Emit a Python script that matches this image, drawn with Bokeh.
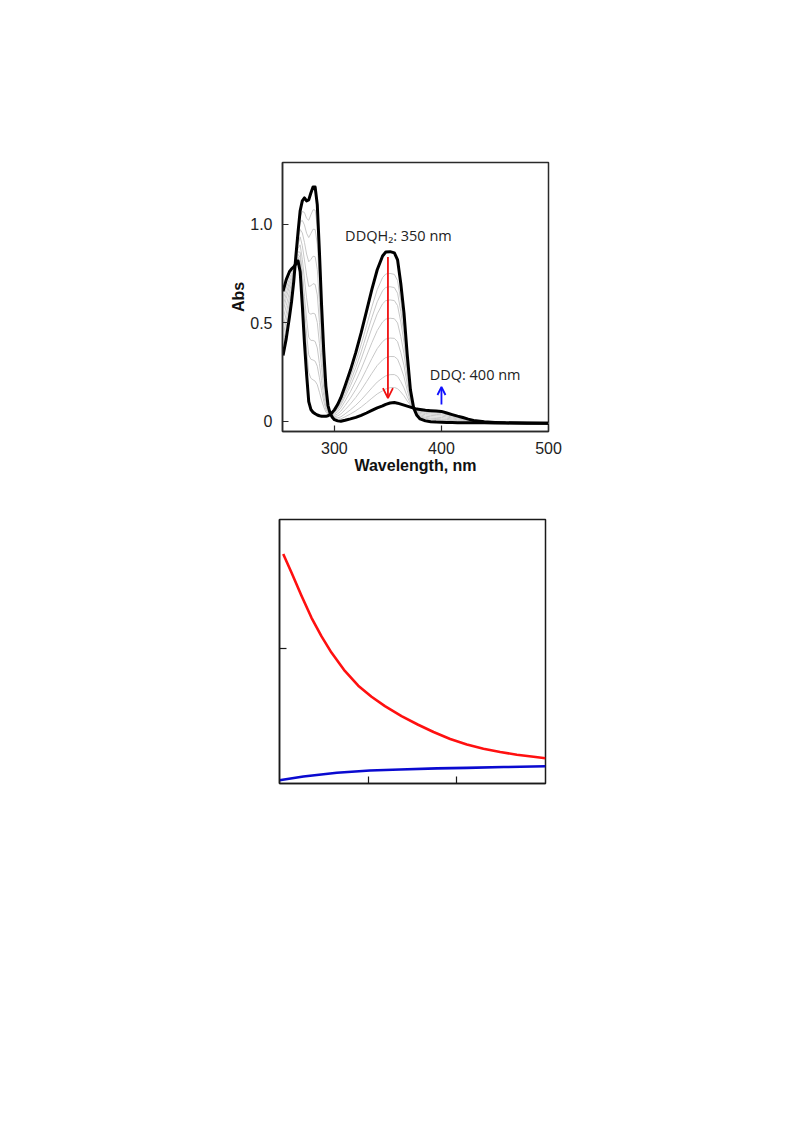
from bokeh.plotting import figure
from bokeh.layouts import column, row
from bokeh.models import FixedTicker, Arrow, OpenHead, ColumnDataSource
from bokeh.core.properties import value
from bokeh.embed import file_html
from bokeh.resources import INLINE

# ---------------- data: UV-vis spectra ----------------
wavelength = [252, 255, 258, 260, 262, 264, 266, 268, 270, 272, 274, 276, 278, 280,
              282, 284, 286, 288, 290, 292, 294, 296, 298, 300, 303, 306, 310, 315,
              320, 325, 330, 335, 340, 345, 348, 352, 356, 359, 362, 365, 368, 371,
              374, 377, 380, 385, 390, 395, 400, 405, 410, 415, 420, 425, 430, 440,
              450, 460, 480, 500]

abs_initial = [0.66, 0.72, 0.76, 0.775, 0.785, 0.80, 0.815, 0.76, 0.59, 0.40, 0.24, 0.10,
               0.06, 0.046, 0.038, 0.032, 0.028, 0.026, 0.025, 0.025, 0.028, 0.034,
               0.045, 0.058, 0.085, 0.12, 0.18, 0.26, 0.35, 0.45, 0.56, 0.67, 0.77,
               0.84, 0.86, 0.862, 0.856, 0.82, 0.70, 0.55, 0.34, 0.16, 0.068, 0.03,
               0.012, 0.002, -0.002, -0.004, -0.005, -0.006, -0.006, -0.007, -0.007,
               -0.007, -0.008, -0.008, -0.009, -0.009, -0.01, -0.01]

abs_final = [0.334, 0.42, 0.53, 0.61, 0.71, 0.84, 0.96, 1.07, 1.12, 1.135, 1.12, 1.125,
             1.16, 1.19, 1.19, 1.10, 0.86, 0.59, 0.36, 0.18, 0.08, 0.04, 0.02, 0.008,
             0.002, 0.0, 0.005, 0.012, 0.02, 0.03, 0.042, 0.055, 0.068, 0.078, 0.086,
             0.093, 0.095, 0.092, 0.087, 0.082, 0.077, 0.072, 0.067, 0.062, 0.06,
             0.056, 0.054, 0.052, 0.05, 0.042, 0.034, 0.026, 0.019, 0.011, 0.004,
             -0.003, -0.006, -0.008, -0.009, -0.01]

# reaction progress of the intermediate (grey) spectra, read from the 350 nm heights
progress = [0.144, 0.232, 0.319, 0.44, 0.571, 0.693, 0.813, 0.899]

# annotations
arrow_x = [350, 400]
arrow_start = [0.835, 0.085]
arrow_end = [0.118, 0.174]
label_x = [310, 389]
label_y = [0.944, 0.237]
label_text = ["DDQH\u2082: 350 nm", "DDQ: 400 nm"]

x_ticks = [300, 400, 500]
y_ticks = [0, 0.5, 1.0]
y_tick_labels = ["0", "0.5", "1.0"]

# ---------------- data: kinetics traces ----------------
t_red = [0.042, 0.135, 0.248, 0.361, 0.474, 0.586, 0.737, 0.888, 1.038, 1.189, 1.376,
         1.564, 1.737, 1.925, 2.113, 2.30, 2.489, 2.677, 2.865, 3.0]
y_red = [0.852, 0.783, 0.697, 0.615, 0.546, 0.486, 0.418, 0.363, 0.322, 0.287, 0.250,
         0.218, 0.191, 0.165, 0.145, 0.129, 0.117, 0.107, 0.099, 0.094]
t_blue = [0.0, 0.27, 0.647, 1.02, 1.361, 1.776, 2.113, 2.53, 3.0]
y_blue = [0.012, 0.026, 0.040, 0.048, 0.052, 0.056, 0.058, 0.061, 0.064]
t_ticks = [1, 2]
level_ticks = [0.5]

FRAME = "#2a2a2a"
TICKFONT = "Liberation Sans"

# ---------------- top figure ----------------
p1 = figure(frame_width=266, frame_height=269, x_range=(251.5, 500), y_range=(-0.052, 1.315),
            output_backend="svg", toolbar_location=None,
            min_border_left=282, min_border_right=42, min_border_top=162, min_border_bottom=59)
p1.grid.visible = False
p1.outline_line_color = FRAME
p1.outline_line_width = 1.5

for f in progress:
    mix = [a + f * (b - a) for a, b in zip(abs_initial, abs_final)]
    p1.line(wavelength, mix, line_color="#c8c8c8", line_width=1)
p1.line(wavelength, abs_initial, line_color="black", line_width=3, line_join="round")
p1.line(wavelength, abs_final, line_color="black", line_width=3, line_join="round")

arrow_colors = ["#f01010", "#1010ff"]
head_sizes = [10, 8]
for xx, y0, y1, c, hs in zip(arrow_x, arrow_start, arrow_end, arrow_colors, head_sizes):
    p1.add_layout(Arrow(end=OpenHead(line_color=c, line_width=1.8, size=hs),
                        x_start=xx, y_start=y0, x_end=xx, y_end=y1,
                        line_color=c, line_width=1.8))

src = ColumnDataSource(dict(x=label_x, y=label_y, t=label_text))
p1.text(x="x", y="y", text="t", source=src, text_font=value("Open Sans"),
        text_font_size="14.5px", text_color="#222222", text_baseline="middle",
        text_align="left")

for ax in (p1.xaxis[0], p1.yaxis[0]):
    ax.axis_line_color = FRAME
    ax.axis_line_width = 1.5
    ax.major_tick_line_color = FRAME
    ax.major_tick_line_width = 1.2
    ax.major_tick_in = 6
    ax.major_tick_out = 0
    ax.minor_tick_line_color = None
    ax.major_label_text_font = TICKFONT
    ax.major_label_text_font_size = "16px"
    ax.major_label_text_color = "#222222"
    ax.axis_label_text_font = TICKFONT
    ax.axis_label_text_font_size = "16px"
    ax.axis_label_text_font_style = "bold"
    ax.axis_label_text_color = "#111111"

p1.xaxis.ticker = FixedTicker(ticks=x_ticks)
p1.yaxis.ticker = FixedTicker(ticks=y_ticks)
p1.yaxis.major_label_overrides = {t: s for t, s in zip(y_ticks, y_tick_labels)}
p1.xaxis.axis_label = "Wavelength, nm"
p1.yaxis.axis_label = "Abs"
p1.xaxis.major_label_standoff = 10
p1.yaxis.major_label_standoff = 10
p1.xaxis.axis_label_standoff = 0
p1.yaxis.axis_label_standoff = 0

# ---------------- bottom figure ----------------
p2 = figure(frame_width=266, frame_height=264, x_range=(0, 3), y_range=(0, 0.98),
            output_backend="svg", toolbar_location=None,
            min_border_left=279, min_border_right=45, min_border_top=29, min_border_bottom=30)
p2.grid.visible = False
p2.outline_line_color = "#1a1a1a"
p2.outline_line_width = 1.5
p2.line(t_red, y_red, line_color="#ff1010", line_width=2.6, line_join="round")
p2.line(t_blue, y_blue, line_color="#0a0ad0", line_width=2.6, line_join="round")
for ax in (p2.xaxis[0], p2.yaxis[0]):
    ax.axis_line_color = "#1a1a1a"
    ax.axis_line_width = 1.5
    ax.major_tick_line_color = "#1a1a1a"
    ax.major_tick_line_width = 1.2
    ax.major_tick_in = 7
    ax.major_tick_out = 0
    ax.minor_tick_line_color = None
p2.xaxis.ticker = FixedTicker(ticks=t_ticks)
p2.yaxis.ticker = FixedTicker(ticks=level_ticks)
p2.xaxis.major_label_overrides = {t: "" for t in t_ticks}
p2.yaxis.major_label_overrides = {t: "" for t in level_ticks}

layout = column(p1, row(p2, spacing=0), spacing=0)
open("out.html", "w").write(file_html(layout, INLINE))
